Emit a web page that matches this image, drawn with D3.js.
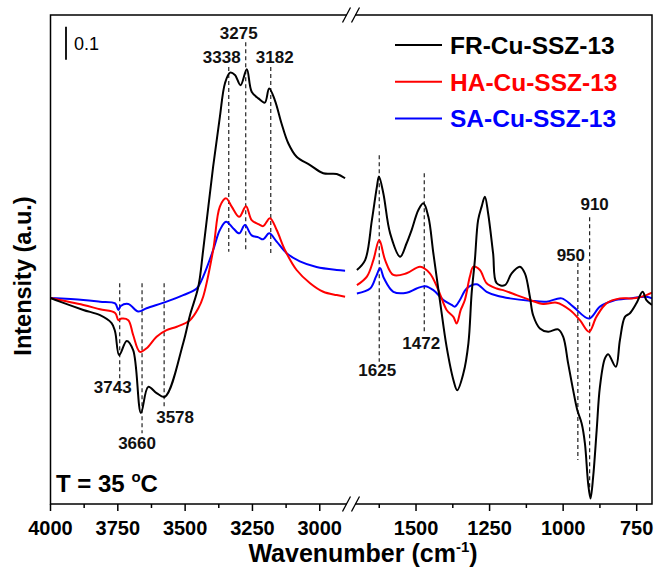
<!DOCTYPE html>
<html>
<head>
<meta charset="utf-8">
<script src="https://cdn.jsdelivr.net/npm/d3@7"></script>
<style>
  body { margin: 0; background: #fff; }
  svg { display: block; font-family: "Liberation Sans", Arial, sans-serif; }
</style>
</head>
<body>
<div id="chart"></div>
<script>
// [wavenumber, absorbance], baseline at 0
var frLeft = [[4000,0],[3965,-0.011],[3878,-0.036],[3816,-0.052],[3773,-0.076],[3760,-0.102],[3745,-0.173],[3717,-0.130],[3693,-0.158],[3664,-0.348],[3637,-0.269],[3606,-0.288],[3575,-0.299],[3507,-0.136],[3482,-0.052],[3451,0.034],[3433,0.145],[3396,0.398],[3371,0.549],[3352,0.651],[3333,0.683],[3315,0.676],[3294,0.645],[3271,0.693],[3253,0.625],[3228,0.605],[3204,0.592],[3188,0.635],[3167,0.600],[3142,0.529],[3117,0.469],[3086,0.428],[3036,0.403],[2987,0.378],[2937,0.376],[2906,0.363]];
var haLeft = [[4000,0],[3878,-0.021],[3816,-0.034],[3760,-0.045],[3748,-0.067],[3736,-0.062],[3711,-0.067],[3693,-0.112],[3668,-0.163],[3643,-0.152],[3606,-0.117],[3569,-0.097],[3531,-0.087],[3482,-0.067],[3451,-0.031],[3433,0.004],[3396,0.145],[3371,0.277],[3348,0.302],[3327,0.277],[3299,0.246],[3274,0.278],[3253,0.236],[3228,0.224],[3210,0.218],[3185,0.242],[3160,0.206],[3129,0.145],[3086,0.085],[3036,0.045],[2987,0.019],[2937,0.009],[2906,0.004]];
var saLeft = [[4000,0],[3878,-0.006],[3816,-0.011],[3760,-0.016],[3748,-0.036],[3739,-0.024],[3711,-0.018],[3674,-0.041],[3643,-0.031],[3569,-0.011],[3507,0.009],[3457,0.029],[3433,0.065],[3396,0.145],[3371,0.206],[3348,0.231],[3321,0.211],[3299,0.196],[3278,0.221],[3253,0.190],[3228,0.184],[3210,0.178],[3188,0.196],[3160,0.171],[3123,0.136],[3074,0.111],[3012,0.094],[2937,0.085],[2906,0.083]];

var frRight = [[1701,0.085],[1673,0.115],[1650,0.236],[1633,0.337],[1626,0.368],[1611,0.317],[1588,0.196],[1554,0.125],[1532,0.166],[1515,0.206],[1492,0.267],[1475,0.287],[1458,0.246],[1441,0.135],[1419,-0.006],[1396,-0.148],[1373,-0.248],[1360,-0.279],[1339,-0.228],[1322,-0.137],[1311,0.014],[1300,0.115],[1289,0.236],[1277,0.277],[1266,0.307],[1255,0.257],[1238,0.135],[1226,0.045],[1198,0.039],[1175,0.075],[1147,0.095],[1130,0.075],[1113,0.004],[1102,-0.052],[1079,-0.092],[1051,-0.102],[1017,-0.095],[1000,-0.117],[983,-0.198],[966,-0.279],[952,-0.339],[937,-0.380],[926,-0.440],[915,-0.562],[907,-0.607],[898,-0.542],[886,-0.400],[875,-0.269],[858,-0.183],[847,-0.170],[821,-0.208],[807,-0.127],[790,-0.057],[773,-0.046],[751,-0.016],[730,0.019],[717,-0.006],[698,-0.021]];
var haRight = [[1701,0.039],[1667,0.065],[1645,0.115],[1625,0.176],[1605,0.115],[1577,0.070],[1532,0.075],[1486,0.095],[1453,0.075],[1424,0.024],[1396,-0.036],[1373,-0.057],[1362,-0.077],[1348,-0.036],[1334,-0.006],[1317,0.065],[1305,0.095],[1283,0.085],[1260,0.045],[1226,0.029],[1204,0.024],[1158,0.009],[1113,-0.006],[1068,-0.018],[1022,-0.014],[977,-0.036],[943,-0.067],[912,-0.102],[887,-0.057],[853,-0.016],[807,-0.001],[762,-0.001],[717,0.009],[698,0.016]];
var saRight = [[1701,0.014],[1656,0.029],[1636,0.065],[1622,0.090],[1609,0.060],[1577,0.019],[1532,0.016],[1498,0.029],[1469,0.036],[1441,0.024],[1407,-0.006],[1379,-0.021],[1368,-0.026],[1351,-0.006],[1328,0.029],[1294,0.042],[1260,0.019],[1221,0.006],[1181,-0.001],[1113,-0.008],[1056,-0.011],[1005,-0.001],[966,-0.026],[912,-0.062],[875,-0.026],[830,-0.008],[773,-0.001],[717,0.004],[698,-0.001]];

var seriesNames = ["FR-Cu-SSZ-13", "HA-Cu-SSZ-13", "SA-Cu-SSZ-13"];
var seriesColors = ["#000000", "#ff0000", "#0000ff"];

var leftTicks = [4000, 3750, 3500, 3250, 3000];
var leftMinor = [3875, 3625, 3375, 3125];
var rightTicks = [1500, 1250, 1000, 750];
var rightMinor = [1625, 1375, 1125, 875];

// peak markers: wavenumber, dashed line top/bottom (absorbance), label position
var peaks = [
    {wn: 3743, y0: 0.045, y1: -0.25, lab: "3743", lx: -7, la: -0.27},
    {wn: 3660, y0: 0.045, y1: -0.41, lab: "3660", lx: -5, la: -0.44},
    {wn: 3578, y0: 0.045, y1: -0.33, lab: "3578", lx: 11, la: -0.36},
    {wn: 3338, y0: 0.700, y1: 0.140, lab: "3338", lx: -7, la: 0.730},
    {wn: 3275, y0: 0.775, y1: 0.145, lab: "3275", lx: -7, la: 0.803},
    {wn: 3182, y0: 0.700, y1: 0.136, lab: "3182", lx: 4, la: 0.730},
    {wn: 1625, y0: 0.433, y1: -0.193, lab: "1625", lx: -2, la: -0.218},
    {wn: 1472, y0: 0.378, y1: -0.102, lab: "1472", lx: -3, la: -0.137},
    {wn: 950, y0: 0.106, y1: -0.491, lab: "950", lx: -7, la: 0.130},
    {wn: 910, y0: 0.245, y1: -0.600, lab: "910", lx: 5, la: 0.285}
];

var width = 656, height = 569;
var plotLeft = 50.5, plotRight = 652, plotTop = 15, plotBottom = 504;
var breakX = 351;

var xL = d3.scaleLinear().domain([4000, 2884]).range([plotLeft, breakX]);
var xR = d3.scaleLinear().domain([1721, 698]).range([breakX, plotRight]);
var y = d3.scaleLinear().domain([-0.624, 0.8576]).range([plotBottom, plotTop]);

var svg = d3.select("#chart").append("svg")
    .attr("width", width)
    .attr("height", height);

svg.append("defs").append("clipPath").attr("id", "clip")
    .append("rect")
    .attr("x", plotLeft).attr("y", plotTop)
    .attr("width", plotRight - plotLeft).attr("height", plotBottom - plotTop);

var plot = svg.append("g").attr("clip-path", "url(#clip)");

// dashed peak markers
peaks.forEach(function(p) {
    var sx = p.wn > 2000 ? xL(p.wn) : xR(p.wn);
    plot.append("line")
        .attr("x1", sx).attr("x2", sx)
        .attr("y1", y(p.y0)).attr("y2", y(p.y1))
        .attr("stroke", "#222")
        .attr("stroke-width", 1.2)
        .attr("stroke-dasharray", "4,3");
    svg.append("text")
        .attr("x", sx + p.lx)
        .attr("y", y(p.la))
        .attr("dy", "0.35em")
        .attr("text-anchor", "middle")
        .attr("font-size", 17)
        .attr("font-weight", "bold")
        .attr("fill", "#111")
        .text(p.lab);
});

function drawSeries(data, xs, color) {
    var line = d3.line()
        .x(function(d) { return xs(d[0]); })
        .y(function(d) { return y(d[1]); })
        .curve(d3.curveCatmullRom.alpha(0.5));
    plot.append("path")
        .datum(data)
        .attr("d", line)
        .attr("fill", "none")
        .attr("stroke", color)
        .attr("stroke-width", 2)
        .attr("stroke-linejoin", "round");
}

drawSeries(saLeft, xL, seriesColors[2]);
drawSeries(haLeft, xL, seriesColors[1]);
drawSeries(frLeft, xL, seriesColors[0]);
drawSeries(saRight, xR, seriesColors[2]);
drawSeries(haRight, xR, seriesColors[1]);
drawSeries(frRight, xR, seriesColors[0]);

// frame
svg.append("rect")
    .attr("x", plotLeft).attr("y", plotTop)
    .attr("width", plotRight - plotLeft).attr("height", plotBottom - plotTop)
    .attr("fill", "none")
    .attr("stroke", "#000")
    .attr("stroke-width", 1.5);

// x axes (ticks outward)
var axisG = svg.append("g").attr("transform", "translate(0," + plotBottom + ")");
function ticksFor(xs, major, minor) {
    axisG.selectAll(null).data(major).enter().append("line")
        .attr("x1", xs).attr("x2", xs)
        .attr("y1", 0).attr("y2", 7)
        .attr("stroke", "#000").attr("stroke-width", 1.5);
    axisG.selectAll(null).data(minor).enter().append("line")
        .attr("x1", xs).attr("x2", xs)
        .attr("y1", 0).attr("y2", 4)
        .attr("stroke", "#000").attr("stroke-width", 1.5);
    axisG.selectAll(null).data(major).enter().append("text")
        .attr("x", xs)
        .attr("y", 31)
        .attr("text-anchor", "middle")
        .attr("font-size", 20)
        .attr("font-weight", "bold")
        .text(function(d) { return d; });
}
ticksFor(xL, leftTicks, leftMinor);
ticksFor(xR, rightTicks, rightMinor);

// axis break marks, top and bottom
[plotTop, plotBottom].forEach(function(yy) {
    svg.append("rect")
        .attr("x", breakX - 4).attr("y", yy - 2)
        .attr("width", 8).attr("height", 4)
        .attr("fill", "#fff");
    [-4.5, 4.5].forEach(function(dx) {
        svg.append("line")
            .attr("x1", breakX + dx - 4).attr("y1", yy + 7.5)
            .attr("x2", breakX + dx + 4).attr("y2", yy - 7.5)
            .attr("stroke", "#000").attr("stroke-width", 1.3);
    });
});

// axis titles
var xTitle = svg.append("text")
    .attr("x", 363)
    .attr("y", 562)
    .attr("text-anchor", "middle")
    .attr("font-size", 25)
    .attr("font-weight", "bold");
xTitle.append("tspan").text("Wavenumber (cm");
xTitle.append("tspan").attr("font-size", 15).attr("dy", -10).text("-1");
xTitle.append("tspan").attr("dy", 10).text(")");

svg.append("text")
    .attr("transform", "translate(31,276) rotate(-90)")
    .attr("text-anchor", "middle")
    .attr("font-size", 23.5)
    .attr("font-weight", "bold")
    .text("Intensity (a.u.)");

// scale bar 0.1
svg.append("line")
    .attr("x1", 66).attr("x2", 66)
    .attr("y1", y(0.822)).attr("y2", y(0.722))
    .attr("stroke", "#000").attr("stroke-width", 1.8);
svg.append("text")
    .attr("x", 74).attr("y", y(0.772))
    .attr("dy", "0.35em")
    .attr("font-size", 18)
    .text("0.1");

// temperature note
var tNote = svg.append("text")
    .attr("x", 56).attr("y", 492)
    .attr("font-size", 24)
    .attr("font-weight", "bold");
tNote.append("tspan").text("T = 35 ");
tNote.append("tspan").attr("font-size", 15).attr("dy", -10).text("o");
tNote.append("tspan").attr("dy", 10).text("C");

// legend
var legend = svg.append("g");
seriesNames.forEach(function(name, i) {
    var ly = 45 + i * 36.7;
    legend.append("line")
        .attr("x1", 395).attr("x2", 442)
        .attr("y1", ly).attr("y2", ly)
        .attr("stroke", seriesColors[i]).attr("stroke-width", 2);
    legend.append("text")
        .attr("x", 450).attr("y", ly)
        .attr("dy", "0.36em")
        .attr("font-size", 24.5)
        .attr("font-weight", "bold")
        .attr("fill", seriesColors[i])
        .text(name);
});
</script>
</body>
</html>
